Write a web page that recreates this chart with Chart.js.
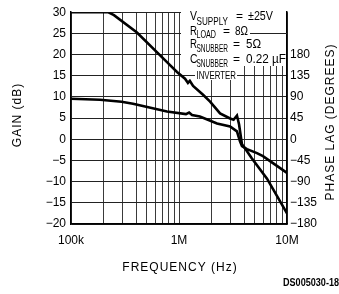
<!DOCTYPE html>
<html><head><meta charset="utf-8">
<script src="https://cdn.jsdelivr.net/npm/chart.js@4/dist/chart.umd.min.js"></script>
<style>html,body{margin:0;padding:0;background:#fff}#c{display:block}</style>
</head><body>
<canvas id="c" width="339" height="294"></canvas>
<script>
// Gain (dB) vs frequency (Hz)
const gainFreq = [1e5, 2.2e5, 2.5e5, 4.08e5, 7.74e5, 9.58e5, 1.137e6, 1.21e6, 1.26e6, 1.35e6, 1.67e6, 1.94e6, 2.4e6, 2.97e6, 3.2e6, 3.44e6, 3.6e6, 3.83e6, 4.08e6, 4.7e6, 6.53e6, 1e7];
const gainDb   = [30, 30, 29.3, 25.2, 18.2, 15.9, 14.3, 13.3, 13.8, 12.6, 10.5, 8.9, 6.1, 4.9, 4.6, 5.6, 3.5, -1.2, -2.1, -4.4, -9.3, -17.5];
// Phase lag (degrees) vs frequency (Hz)
const phaseFreq = [1e5, 1.856e5, 2.94e5, 3.75e5, 7.74e5, 1.16e6, 1.24e6, 1.32e6, 1.56e6, 2.25e6, 2.97e6, 3.44e6, 3.67e6, 3.83e6, 4.26e6, 5.27e6, 5.99e6, 6.97e6, 1e7];
const phaseDeg  = [86.2, 84.1, 79.9, 75.7, 58.9, 53.5, 56.8, 51.5, 48.4, 33.6, 27.3, 16.8, -4.2, -14.7, -21, -29.4, -35.7, -46.3, -71.5];
// Axis ticks
const freqTicks = [1e5,2e5,3e5,4e5,5e5,6e5,7e5,8e5,9e5,1e6,2e6,3e6,4e6,5e6,6e6,7e6,8e6,9e6,1e7];
const freqLabels = {100000:'100k', 1000000:'1M', 10000000:'10M'};
const gainRange = [-20, 30], gainStep = 5;
const phaseRange = [-180, 270], phaseStep = 45, phaseLabelMax = 180;

const FONT = 'Liberation Sans, Arial, sans-serif';
const minus = s => String(s).replace('-', '\u2212');

function fit(ctx, text, x, y, size, w) {
  ctx.font = size + 'px ' + FONT;
  const m = ctx.measureText(text).width;
  ctx.save(); ctx.translate(x, y); ctx.scale(w / m, 1);
  ctx.fillText(text, 0, 0); ctx.restore();
}

const overlay = {
  id: 'overlay',
  beforeDatasetsDraw(chart) {
    const ctx = chart.ctx, ya = chart.scales.y, ca = chart.chartArea;
    ctx.save();
    ctx.fillStyle = '#fff';
    ctx.fillRect(181, ca.top - 2, ca.right - 1 - 181, 66 - ca.top + 2);
    ctx.fillRect(195, 66, 42, 14);
    ctx.fillStyle = '#000';
    ctx.textAlign = 'left'; ctx.textBaseline = 'alphabetic';
    // row 1
    fit(ctx, 'V', 190, 20, 12.5, 7);  fit(ctx, 'SUPPLY', 196.5, 25, 11, 31.5);
    fit(ctx, '=', 236, 20, 12, 7);  fit(ctx, '\u00b125V', 248, 20, 12.5, 25);
    // row 2
    fit(ctx, 'R', 190, 35, 12.5, 7);  fit(ctx, 'LOAD', 196.5, 37.5, 11, 19.5);
    fit(ctx, '=', 223, 35, 12, 7);  fit(ctx, '8\u03a9', 235, 35, 12.5, 13);
    // row 3
    fit(ctx, 'R', 190, 47.5, 12.5, 7);  fit(ctx, 'SNUBBER', 196.5, 51.5, 11, 31.5);
    fit(ctx, '=', 233, 47.5, 12, 7);  fit(ctx, '5\u03a9', 246, 47.5, 12.5, 15);
    // row 4
    fit(ctx, 'C', 190, 63, 12.5, 7.5);  fit(ctx, 'SNUBBER', 196.5, 66.5, 11, 31.5);
    fit(ctx, '=', 233, 63, 12, 7);  fit(ctx, '0.22 \u00b5F', 246, 63, 12.5, 40);
    // inverter label
    fit(ctx, 'INVERTER', 196.5, 78.5, 11.5, 39.5);
    // leader line at 25 dB
    const y25 = Math.round(ya.getPixelForValue(25)) + 0.5;
    ctx.strokeStyle = '#222'; ctx.lineWidth = 1;
    ctx.beginPath(); ctx.moveTo(250, y25); ctx.lineTo(ca.right, y25); ctx.stroke();
    ctx.restore();
  },
  afterDraw(chart) {
    const ctx = chart.ctx;
    ctx.save();
    ctx.fillStyle = '#000';
    ctx.font = '12px ' + FONT;
    ctx.letterSpacing = '1px';
    ctx.textAlign = 'center'; ctx.textBaseline = 'middle';
    ctx.fillText('FREQUENCY (Hz)', 180, 268);
    ctx.save(); ctx.translate(18, 115); ctx.rotate(-Math.PI / 2); ctx.fillText('GAIN (dB)', 0, 0); ctx.restore();
    ctx.save(); ctx.translate(331, 122); ctx.rotate(-Math.PI / 2); ctx.fillText('PHASE LAG (DEGREES)', 0, 0); ctx.restore();
    ctx.letterSpacing = '0px';
    ctx.font = 'bold 11px ' + FONT;
    const t = 'DS005030-18', w = ctx.measureText(t).width, target = 56;
    ctx.save(); ctx.translate(339 - target, 283); ctx.scale(target / w, 1);
    ctx.textAlign = 'left'; ctx.fillText(t, 0, 0); ctx.restore();
    ctx.restore();
  }
};

new Chart(document.getElementById('c'), {
  type: 'line',
  data: {
    datasets: [
      { data: gainFreq.map((f, i) => ({x: f, y: gainDb[i]})), yAxisID: 'y', borderColor: '#000', borderWidth: 2.6, pointRadius: 0, tension: 0, fill: false },
      { data: phaseFreq.map((f, i) => ({x: f, y: phaseDeg[i]})), yAxisID: 'y1', borderColor: '#000', borderWidth: 2.6, pointRadius: 0, tension: 0, fill: false }
    ]
  },
  options: {
    responsive: false, animation: false, devicePixelRatio: 1,
    layout: { padding: { top: 10, left: 0, right: 0, bottom: 0 } },
    plugins: { legend: { display: false }, tooltip: { enabled: false } },
    scales: {
      x: {
        type: 'logarithmic', min: 1e5, max: 1e7,
        afterBuildTicks: s => { s.ticks = freqTicks.map(v => ({value: v})); },
        afterFit: s => { s.height = 70; },
        grid: { color: '#3a3a3a', lineWidth: 1, drawTicks: false },
        border: { color: '#000', width: 1.5 },
        ticks: { autoSkip: false, maxRotation: 0, padding: 9, color: '#000', font: { family: FONT, size: 12 },
          callback: v => freqLabels[v] || '' }
      },
      y: {
        position: 'left', min: gainRange[0], max: gainRange[1],
        afterFit: s => { s.width = 71; },
        grid: { color: '#222', lineWidth: 1, drawTicks: false },
        border: { color: '#000', width: 1.5 },
        ticks: { stepSize: gainStep, padding: 5, color: '#000', font: { family: FONT, size: 12 }, callback: v => minus(v) }
      },
      y1: {
        position: 'right', min: phaseRange[0], max: phaseRange[1],
        afterFit: s => { s.width = 52; },
        grid: { display: false, drawTicks: false },
        border: { color: '#000', width: 1.5 },
        ticks: { stepSize: phaseStep, padding: 3, color: '#000', font: { family: FONT, size: 12 },
          callback: v => v <= phaseLabelMax ? minus(v) : '' }
      }
    }
  },
  plugins: [overlay]
});
</script>
</body></html>
